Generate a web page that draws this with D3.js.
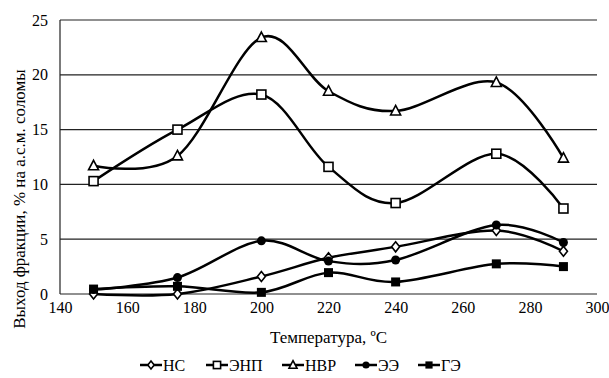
<!DOCTYPE html>
<html>
<head>
<meta charset="utf-8">
<script src="https://cdn.jsdelivr.net/npm/d3@7"></script>
<style>
  body { margin: 0; background: #fff; }
</style>
</head>
<body>
<div id="chart"></div>
<script>
// Выход фракций по температуре
const temps = [150, 175, 200, 220, 240, 270, 290];
const seriesNames = ['НС', 'ЭНП', 'НВР', 'ЭЭ', 'ГЭ'];
const hs  = [0, 0, 1.6, 3.3, 4.3, 5.8, 3.9];
const enp = [10.3, 15.0, 18.2, 11.6, 8.3, 12.8, 7.8];
const nvr = [11.7, 12.6, 23.4, 18.5, 16.7, 19.3, 12.4];
const ee  = [0.4, 1.5, 4.85, 3.0, 3.1, 6.3, 4.7];
const ge  = [0.45, 0.7, 0.15, 1.95, 1.1, 2.75, 2.5];
const xTicks = [140, 160, 180, 200, 220, 240, 260, 280, 300];
const yTicks = [0, 5, 10, 15, 20, 25];

const FONT = 'Liberation Serif';

const series = [
  { name: seriesNames[0], values: hs,  marker: 'diamond' },
  { name: seriesNames[1], values: enp, marker: 'square' },
  { name: seriesNames[2], values: nvr, marker: 'triangle' },
  { name: seriesNames[3], values: ee,  marker: 'circle' },
  { name: seriesNames[4], values: ge,  marker: 'fsquare' }
];

const W = 609, H = 378;
const margin = { top: 20, right: 12, bottom: 84, left: 60 };
const width = W - margin.left - margin.right;
const height = H - margin.top - margin.bottom;

const svg = d3.select('#chart').append('svg')
  .attr('width', W).attr('height', H);
const g = svg.append('g')
  .attr('transform', `translate(${margin.left},${margin.top})`);

const x = d3.scaleLinear().domain([140, 300]).range([0, width]);
const y = d3.scaleLinear().domain([0, 25]).range([height, 0]);

// grid lines
g.append('g')
  .selectAll('line')
  .data(yTicks)
  .enter().append('line')
  .attr('x1', 0).attr('x2', width)
  .attr('y1', d => y(d)).attr('y2', d => y(d))
  .attr('stroke', '#222').attr('stroke-width', 1.2);

// y axis line
g.append('line')
  .attr('x1', 0).attr('x2', 0)
  .attr('y1', y(0)).attr('y2', y(25))
  .attr('stroke', '#222').attr('stroke-width', 1.2);

// tick labels
const yAxis = g.append('g')
  .call(d3.axisLeft(y).tickValues(yTicks).tickSize(0).tickPadding(12));
yAxis.select('.domain').remove();
yAxis.selectAll('text').style('font-size', '16px').style('font-family', FONT).attr('fill', '#000');

const xAxis = g.append('g')
  .attr('transform', `translate(0,${height})`)
  .call(d3.axisBottom(x).tickValues(xTicks).tickSize(0).tickPadding(8));
xAxis.select('.domain').remove();
xAxis.selectAll('text').style('font-size', '16px').style('font-family', FONT).attr('fill', '#000');

// axis titles
g.append('text')
  .attr('x', width / 2)
  .attr('y', height + 49)
  .attr('text-anchor', 'middle')
  .style('font-size', '17px')
  .style('font-family', FONT)
  .text('Температура, ºС');

svg.append('text')
  .attr('transform', `translate(25,199) rotate(-90)`)
  .attr('text-anchor', 'middle')
  .style('font-size', '17px')
  .style('font-family', FONT)
  .text('Выход фракции, % на а.с.м. соломы');

// lines
const line = d3.line()
  .x((d, i) => x(temps[i]))
  .y(d => y(d))
  .curve(d3.curveCatmullRom.alpha(0));

g.selectAll('.series')
  .data(series)
  .enter().append('path')
  .attr('d', d => line(d.values))
  .attr('fill', 'none')
  .attr('stroke', '#000')
  .attr('stroke-width', 2.5);

function drawMarker(sel, type, k) {
  k = k || 1;
  if (type === 'diamond') {
    sel.append('path').attr('d', `M0,${-5 * k}L${4 * k},0L0,${5 * k}L${-4 * k},0Z`)
      .attr('fill', '#fff').attr('stroke', '#000').attr('stroke-width', 1.6);
  } else if (type === 'square') {
    sel.append('rect').attr('x', -4.5 * k).attr('y', -4.5 * k).attr('width', 9 * k).attr('height', 9 * k)
      .attr('fill', '#fff').attr('stroke', '#000').attr('stroke-width', 1.6);
  } else if (type === 'triangle') {
    sel.append('path').attr('d', `M0,${-5.5 * k}L${5 * k},${4 * k}L${-5 * k},${4 * k}Z`)
      .attr('fill', '#fff').attr('stroke', '#000').attr('stroke-width', 1.6);
  } else if (type === 'circle') {
    sel.append('circle').attr('r', 4.5 * k).attr('fill', '#000');
  } else {
    sel.append('rect').attr('x', -4.5 * k).attr('y', -4.5 * k).attr('width', 9 * k).attr('height', 9 * k)
      .attr('fill', '#000');
  }
}

series.forEach(s => {
  s.values.forEach((v, i) => {
    const m = g.append('g').attr('transform', `translate(${x(temps[i])},${y(v)})`);
    drawMarker(m, s.marker);
  });
});

// legend
const legendX = [140, 206, 282, 355, 418];
const legend = svg.append('g').attr('transform', 'translate(0,365)');
series.forEach((s, i) => {
  const lg = legend.append('g').attr('transform', `translate(${legendX[i]},0)`);
  lg.append('line').attr('x1', 0).attr('x2', 22).attr('y1', 0).attr('y2', 0)
    .attr('stroke', '#000').attr('stroke-width', 2.5);
  const m = lg.append('g').attr('transform', 'translate(11,0)');
  drawMarker(m, s.marker, 0.8);
  lg.append('text').attr('x', 23).attr('y', 5.5)
    .style('font-size', '16px')
    .style('font-family', FONT)
    .text(s.name);
});
</script>
</body>
</html>
